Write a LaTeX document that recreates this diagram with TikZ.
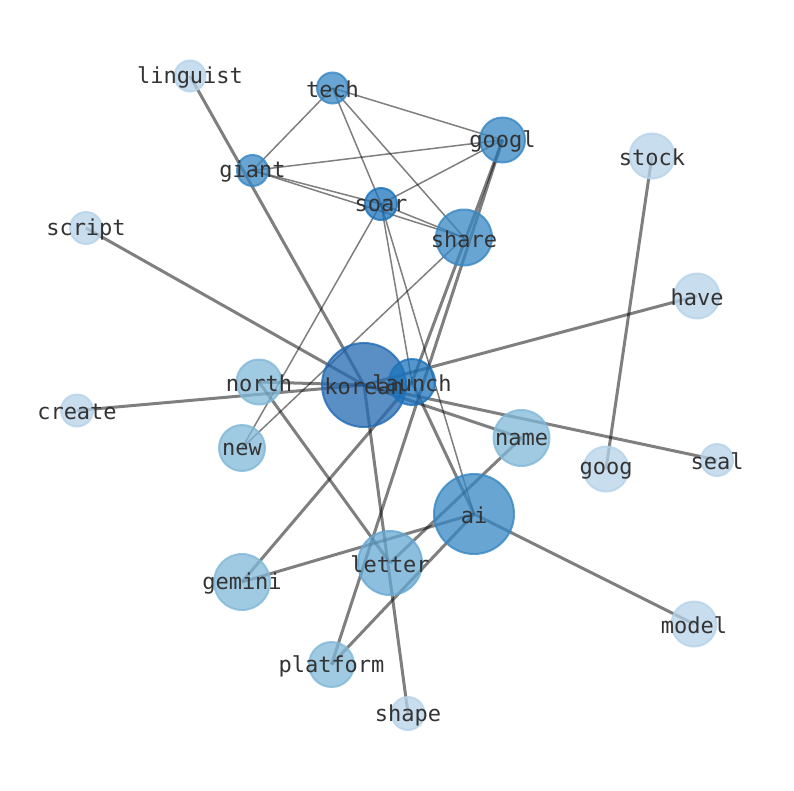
\documentclass[tikz,border=0pt]{standalone}
\usepackage{fontspec}
\setmonofont{DejaVu Sans Mono}
\usetikzlibrary{positioning}
\usepackage{xcolor}

\definecolor{bluedeep}{RGB}{35,106,178}
\definecolor{bluedark}{RGB}{28,115,188}
\definecolor{bluemid}{RGB}{55,135,195}
\definecolor{bluesoft}{RGB}{102,168,211}
\definecolor{bluepale}{RGB}{128,184,216}
\definecolor{bluelight}{RGB}{182,210,232}
\definecolor{labelgray}{RGB}{51,51,51}

\pgfdeclarelayer{edges}
\pgfsetlayers{edges,main}

\tikzset{
  vertex/.style={circle, inner sep=0pt, fill=#1, fill opacity=0.75, draw=#1, draw opacity=0.8, line width=2pt},
  word/.style={font=\ttfamily\fontsize{22}{26}\selectfont, text=labelgray, inner sep=0pt, yshift=-1.5pt},
  weakedge/.style={black, opacity=0.5, line width=1.5pt},
  strongedge/.style={black, opacity=0.5, line width=3pt}
}

\begin{document}
\begin{tikzpicture}[x=1pt, y=-1pt]
\useasboundingbox (0,0) rectangle (794,790);

% Draw the words as circles, size and shade by weight
\foreach \i/\x/\y/\d/\c in {linguist/190/76/31/bluelight, tech/332.5/88/31/bluemid, googl/502.5/140/45/bluemid,
    giant/252.5/170.5/31/bluemid, stock/652/156/45/bluelight, soar/381/204/32/bluedark, script/86/228/32/bluelight,
    share/464/237.5/56/bluemid, have/697/296/45/bluelight, north/259/382/45/bluepale, korean/364/385/84/bluedeep,
    launch/412/382/46/bluedark, create/77/410.5/32/bluelight, new/242/448/46/bluepale, name/521.5/438/56/bluepale,
    goog/606/469/45/bluelight, seal/717/460/32/bluelight, ai/474/514/80/bluemid, letter/390/563/64/bluesoft,
    gemini/242/582/56/bluepale, model/694/624/45/bluelight, platform/331.5/664.5/45/bluepale, shape/408/713.5/33/bluelight} {
    \node[vertex=\c, minimum size=\d pt] (\i) at (\x,\y) {};
}

% Edges go underneath the circles
\begin{pgfonlayer}{edges}
\foreach \a/\b in {tech/giant, tech/googl, tech/soar, tech/share, giant/googl, giant/soar, giant/share,
    googl/soar, soar/share, soar/new, share/new, soar/launch, soar/ai} {
    \draw[weakedge] (\a.center) -- (\b.center);
}
\foreach \a/\b in {linguist/korean, script/korean, create/korean, north/korean,
    north/letter, korean/shape, korean/have, korean/seal, korean/name, launch/ai, googl/launch, googl/platform,
    gemini/launch, gemini/ai, name/letter, platform/ai, ai/model, stock/goog} {
    \draw[strongedge] (\a.center) -- (\b.center);
}
\end{pgfonlayer}

% Labels on top of everything
\foreach \i in {linguist, tech, googl, giant, stock, soar, script, share, have, north, korean, launch,
    create, new, name, goog, seal, ai, letter, gemini, model, platform, shape} {
    \node[word] (\i-text) at (\i.center) {\i};
}

\end{tikzpicture}
\end{document}
